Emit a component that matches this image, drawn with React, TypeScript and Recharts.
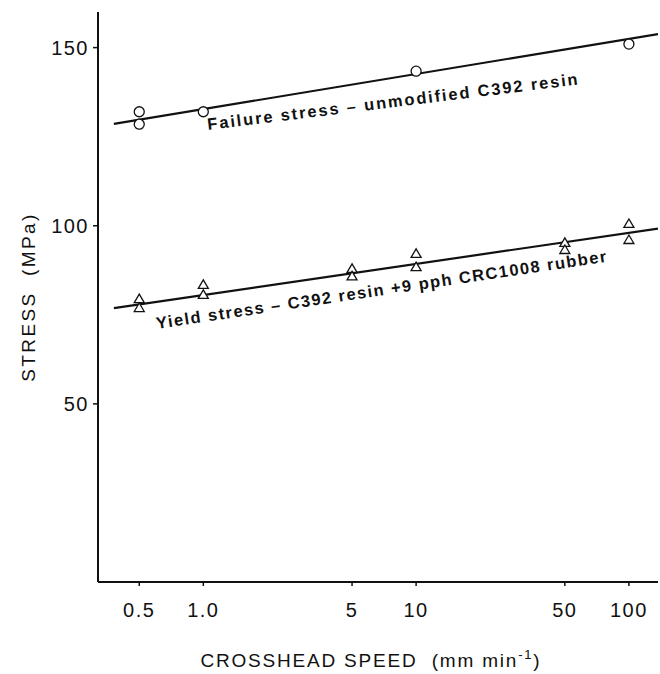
import React from "react";
import { ComposedChart, Line, Scatter, XAxis, YAxis } from "recharts";

// crosshead speed ticks (mm/min) and how they are printed
const speedTicks = [0.5, 1, 5, 10, 50, 100];
const speedLabels = ["0.5", "1.0", "5", "10", "50", "100"];
const stressTicks = [50, 100, 150];

// failure stress - unmodified C392 resin (open circles)
const failSpeed = [0.5, 0.5, 1, 10, 100];
const failStress = [132, 128.5, 132, 143.4, 151];

// yield stress - C392 + 9 pph CRC1008 rubber (open triangles)
const yieldSpeed = [0.5, 0.5, 1, 1, 5, 5, 10, 10, 50, 50, 100, 100];
const yieldStress = [79.4, 76.9, 83.4, 80.6, 87.9, 85.8, 92.1, 88.4, 95.2, 93.2, 100.5, 96];

// hand drawn fit lines, end points
const fitSpeed = [0.38, 137];
const failFit = [128.6, 153.8];
const yieldFit = [76.9, 99.2];

const zip = (xs: number[], ys: number[]) => xs.map((x, i) => ({ x, y: ys[i] }));

const INK = "#111";
const FONT = "'Liberation Sans', Arial, Helvetica, sans-serif";

const OpenCircle = (props: any) => (
  <circle cx={props.cx} cy={props.cy} r={5} fill="#fff" stroke={INK} strokeWidth={1.3} />
);

const OpenTriangle = (props: any) => {
  const { cx, cy } = props;
  const pts = `${cx},${cy - 5} ${cx - 5},${cy + 3.5} ${cx + 5},${cy + 3.5}`;
  return <polygon points={pts} fill="#fff" stroke={INK} strokeWidth={1.3} />;
};

const XTitle = (props: any) => {
  const vb = props.viewBox || {};
  const cx = vb.x + vb.width / 2 - 7;
  return (
    <text x={cx} y={667} textAnchor="middle" fontFamily={FONT} fontSize={19} letterSpacing={1.8} fill={INK}>
      CROSSHEAD SPEED{"\u00a0\u00a0"}(mm min
      <tspan dy={-8} fontSize={13}>-1</tspan>
      <tspan dy={8}>)</tspan>
    </text>
  );
};

const YTitle = (props: any) => {
  const vb = props.viewBox || {};
  const cy = vb.y + vb.height / 2;
  return (
    <text
      x={28}
      y={cy}
      transform={`rotate(-90, 28, ${cy})`}
      textAnchor="middle"
      dominantBaseline="central"
      fontFamily={FONT}
      fontSize={19}
      letterSpacing={2.4}
      fill={INK}
    >
      STRESS{"\u00a0\u00a0"}(MPa)
    </text>
  );
};

export default function App() {
  return (
    <div style={{ position: "absolute", left: 0, top: 0, width: 660, height: 674, background: "#fff" }}>
      <ComposedChart width={660} height={674} margin={{ top: 12, right: 2, bottom: 0, left: 0 }}>
        <XAxis
          dataKey="x"
          type="number"
          scale="log"
          domain={[0.32, 137]}
          allowDataOverflow
          ticks={speedTicks}
          tickFormatter={(v: number) => speedLabels[speedTicks.indexOf(v)] ?? String(v)}
          height={92}
          axisLine={{ stroke: INK, strokeWidth: 2 }}
          tickLine={{ stroke: INK, strokeWidth: 1.5 }}
          tickSize={4}
          tickMargin={17}
          tick={{ fontSize: 20, fill: INK, fontFamily: FONT, letterSpacing: 1.5 }}
          label={<XTitle />}
        />
        <YAxis
          dataKey="y"
          type="number"
          domain={[0, 160]}
          ticks={stressTicks}
          width={98}
          axisLine={{ stroke: INK, strokeWidth: 2 }}
          tickLine={{ stroke: INK, strokeWidth: 1.5 }}
          tickSize={5}
          tickMargin={4}
          tick={{ fontSize: 20, fill: INK, fontFamily: FONT, letterSpacing: 1.5 }}
          label={<YTitle />}
        />
        <Line
          data={zip(fitSpeed, failFit)}
          dataKey="y"
          stroke={INK}
          strokeWidth={2.2}
          dot={false}
          isAnimationActive={false}
        />
        <Line
          data={zip(fitSpeed, yieldFit)}
          dataKey="y"
          stroke={INK}
          strokeWidth={2.2}
          dot={false}
          isAnimationActive={false}
        />
        <Scatter data={zip(failSpeed, failStress)} shape={<OpenCircle />} isAnimationActive={false} />
        <Scatter data={zip(yieldSpeed, yieldStress)} shape={<OpenTriangle />} isAnimationActive={false} />
      </ComposedChart>
      <svg
        width={660}
        height={674}
        style={{ position: "absolute", left: 0, top: 0, pointerEvents: "none" }}
      >
        <text
          x={208}
          y={130}
          transform="rotate(-7, 208, 130)"
          fontFamily={FONT}
          fontWeight="bold"
          fontSize={16.5}
          letterSpacing={1.9}
          fill={INK}
        >
          Failure stress – unmodified C392 resin
        </text>
        <text
          x={157}
          y={329}
          transform="rotate(-8.5, 157, 329)"
          fontFamily={FONT}
          fontWeight="bold"
          fontSize={16.5}
          letterSpacing={1.5}
          fill={INK}
        >
          Yield stress – C392 resin +9 pph CRC1008 rubber
        </text>
      </svg>
    </div>
  );
}
